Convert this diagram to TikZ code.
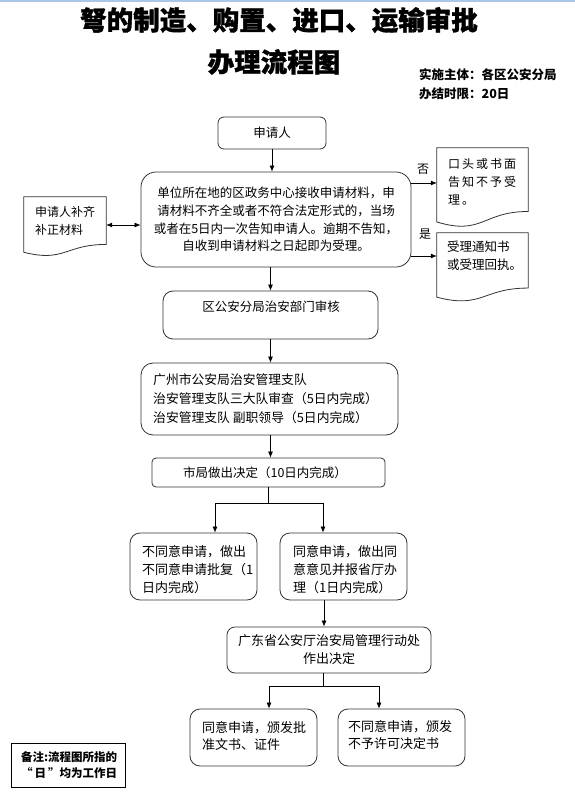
\documentclass[tikz,border=0pt]{standalone}
\usepackage{fontspec}
\setmainfont{Noto Sans CJK SC}
\usetikzlibrary{arrows.meta,calc}
\tikzset{
  rbox/.style={draw=black!80, line width=0.8pt, inner sep=0pt},
  docbox/.style={draw=none, inner sep=0pt},
  docline/.style={draw=black!80, line width=0.8pt, fill=white},
  arr/.style={-{Latex[length=6pt,width=5pt]}, line width=0.7pt},
  darr/.style={{Latex[length=6pt,width=5pt]}-{Latex[length=6pt,width=5pt]}, line width=0.7pt},
  plain/.style={line width=0.7pt},
  txt/.style={inner sep=0pt, align=left, anchor=west},
  ctxt/.style={inner sep=0pt, align=center},
  titletext/.style={ctxt, font=\fs{26.5}{30}\bfseries\addfontfeature{FakeBold=1.2}},
}
\newcommand\fs[2]{\fontsize{#1}{#2}\selectfont}
\newcommand\docpath[1]{\draw[docline] (#1.north west) -- (#1.north east) --
  ($(#1.north east)!0.802!(#1.south east)$) .. controls ($(#1.north)!0.802!(#1.south)$) and ($(#1.north)!1.108!(#1.south)$) ..
  ($(#1.north west)!0.934!(#1.south west)$) -- cycle;}
\begin{document}
\begin{tikzpicture}[x=1pt,y=-1pt]
\useasboundingbox (0,0) rectangle (575,795);
\fill[white] (0,0) rectangle (575,795);
\fill[color={rgb,255:red,170;green,200;blue,230}] (0,0) rectangle (575,1.5);

% titles
\node[titletext] (t1) at (279,20) {弩的制造、购置、进口、运输审批};
\node[titletext] (t2) at (274,62) {办理流程图};
\node[txt, font=\fs{12.5}{18}\bfseries] (info1) at (419,75) {实施主体：各区公安分局};
\node[txt, font=\fs{12.5}{18}\bfseries] (info2) at (419,94) {办结时限：20日};

% boxes
\node[rbox, rounded corners=6pt, minimum width=108pt, minimum height=32pt, font=\fs{12.5}{18}] (ask) at (272,133) {申请人};
\node[rbox, rounded corners=15pt, minimum width=270pt, minimum height=95pt, align=center, font=\fs{12.5}{17.7}] (main) at (276,219.5)
  {单位所在地的区政务中心接收申请材料，申\\请材料不齐全或者不符合法定形式的，当场\\或者在5日内一次告知申请人。逾期不告知，\\自收到申请材料之日起即为受理。};

\node[docbox, minimum width=82pt, minimum height=59pt] (leftdoc) at (65,226.5) {};
\docpath{leftdoc}
\node[txt, font=\fs{12}{18}] (leftdoctext) at (35,221) {申请人补齐\\补正材料};

\node[docbox, minimum width=91pt, minimum height=79pt] (doc1) at (482.5,187.5) {};
\docpath{doc1}
\node[txt, font=\fs{12}{18}] (doc1text) at (448,182) {口\,头\,或\,书\,面\\告\,知\,不\,予\,受\\理\,。};

\node[docbox, minimum width=91pt, minimum height=68.5pt] (doc2) at (482.5,267.25) {};
\docpath{doc2}
\node[txt, font=\fs{12.5}{18}] (doc2text) at (447,256) {受理通知书\\或受理回执。};

\node[rbox, rounded corners=10pt, minimum width=215pt, minimum height=48pt] (district) at (270.5,315) {};
\node[ctxt, font=\fs{12.5}{18}] (districttext) at (271,307) {区公安分局治安部门审核};

\node[rbox, rounded corners=12pt, minimum width=257pt, minimum height=72pt] (gz) at (269.5,399) {};
\node[txt, font=\fs{12.8}{19}] (gztext) at (153,399) {广州市公安局治安管理支队\\治安管理支队三大队审查（5日内完成）\\治安管理支队~副职领导（5日内完成）};

\node[rbox, rounded corners=4pt, minimum width=233pt, minimum height=29pt] (city) at (268.5,472.5) {};
\node[ctxt, font=\fs{12.5}{18}] (citytext) at (265,473) {市局做出决定（10日内完成）};

\node[rbox, rounded corners=10pt, minimum width=127pt, minimum height=67pt] (deny1) at (193.5,566.5) {};
\node[txt, font=\fs{13}{18}] (deny1text) at (142,570) {不同意申请，做出\\不同意申请批复（1\\日内完成）};

\node[rbox, rounded corners=10pt, minimum width=127pt, minimum height=67pt] (agree1) at (343.5,566.5) {};
\node[txt, font=\fs{13}{18}] (agree1text) at (293,570) {同意申请，做出同\\意意见并报省厅办\\理（1日内完成）};

\node[rbox, rounded corners=8pt, minimum width=204pt, minimum height=46pt, align=center, font=\fs{13}{18}] (gd) at (329,650)
  {广东省公安厅治安局管理行动处\\作出决定};

\node[rbox, rounded corners=10pt, minimum width=127pt, minimum height=57pt] (agree2) at (253.5,737.5) {};
\node[txt, font=\fs{13}{17}] (agree2text) at (202,735.5) {同意申请，颁发批\\准文书、证件};

\node[rbox, rounded corners=10pt, minimum width=127pt, minimum height=57pt] (deny2) at (401.5,737.5) {};
\node[txt, font=\fs{13}{17}] (deny2text) at (348,735.5) {不同意申请，颁发\\不予许可决定书};

\node[draw=black, line width=1pt, minimum width=114pt, minimum height=44pt, inner sep=0pt] (note) at (68,765) {};
\node[txt, font=\fs{11.5}{16}\bfseries] (notetext) at (21,765) {备注:流程图所指的\\“\,日\,”均为工作日};

% connectors
\coordinate (lr) at (0,225);
\coordinate (ny) at (0,183);
\coordinate (yy) at (0,256);
\draw[arr] (ask.south) -- (ask.south |- main.north);
\draw[darr] (leftdoc.east |- lr) -- (main.west |- lr);
\draw[arr] (main.east |- ny) -- (doc1.west |- ny);
\draw[arr] (main.east |- yy) -- (doc2.west |- yy);
\node[ctxt, font=\fs{12}{14}] (no) at (423,169) {否};
\node[ctxt, font=\fs{12}{14}] (yes) at (425,234) {是};
\draw[arr] (district.north |- main.south) -- (district.north);
\draw[arr] (district.south) -- (district.south |- gz.north);
\draw[arr] (district.south |- gz.south) -- (district.south |- city.north);

\coordinate (j1L) at (215,503);
\coordinate (j1R) at (323,503);
\draw[plain] (city.south) -- (city.south |- j1L);
\draw[plain] (j1L) -- (j1R);
\draw[arr] (j1L) -- (j1L |- deny1.north);
\draw[arr] (j1R) -- (j1R |- agree1.north);

\coordinate (c2) at (324,600);
\draw[arr] (c2) -- (c2 |- gd.north);

\coordinate (j2L) at (269,686);
\coordinate (j2R) at (379,686);
\coordinate (j2) at (323,686);
\draw[plain] (j2 |- gd.south) -- (j2);
\draw[plain] (j2L) -- (j2R);
\draw[arr] (j2L) -- (j2L |- agree2.north);
\draw[arr] (j2R) -- (j2R |- deny2.north);
\end{tikzpicture}
\end{document}
